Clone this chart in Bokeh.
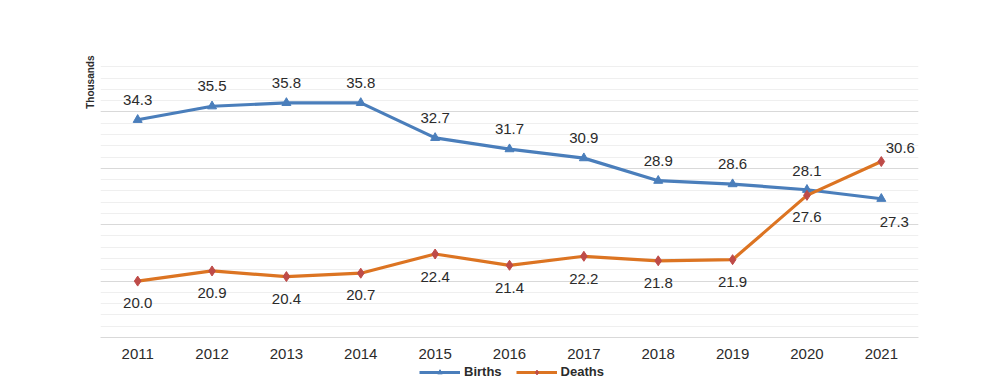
from bokeh.plotting import figure
from bokeh.models import (ColumnDataSource, LabelSet, Legend, LegendItem, Title,
                          SingleIntervalTicker, Range1d, FactorRange)
from bokeh.layouts import column
from bokeh.core.properties import value
from bokeh.embed import file_html
from bokeh.resources import INLINE

years = ["2011", "2012", "2013", "2014", "2015", "2016", "2017", "2018", "2019", "2020", "2021"]
births = [34.3, 35.5, 35.8, 35.8, 32.7, 31.7, 30.9, 28.9, 28.6, 28.1, 27.3]
deaths = [20.0, 20.9, 20.4, 20.7, 22.4, 21.4, 22.2, 21.8, 21.9, 27.6, 30.6]
series_names = ["Births", "Deaths"]

# label offsets in screen pixels (style only)
birth_dx = [0, 0, 0, 0, 0, 0, 0, 0, 0, 0, 13]
birth_dy = [20, 20, 20, 20, 20, 20, 20, 20, 20, 19, -23]
death_dx = [0, 0, 0, 0, 0, 0, 0, 0, 0, 0, 19]
death_dy = [-22, -22, -22, -22, -23, -23, -23, -22, -22, -22, 14]

FONT = "Liberation Sans"
BLUE = "#4a7ebb"
ORANGE = "#dc7422"
RED = "#be4b48"
TXT = "#2b2b2b"

src = ColumnDataSource(dict(
    year=years, births=births, deaths=deaths,
    blbl=["%.1f" % v for v in births], dlbl=["%.1f" % v for v in deaths],
    bdx=birth_dx, bdy=birth_dy, ddx=death_dx, ddy=death_dy,
))

p = figure(x_range=years, y_range=Range1d(15, 40),
           frame_width=818, frame_height=282,
           output_backend="svg", toolbar_location=None,
           min_border_left=100, min_border_right=82, min_border_top=55, min_border_bottom=28)
p.outline_line_color = None
p.background_fill_color = "white"
p.border_fill_color = "white"
p.xgrid.visible = False
p.ygrid.ticker = SingleIntervalTicker(interval=5, num_minor_ticks=5)
p.ygrid.grid_line_color = "#d9d9d9"
p.ygrid.minor_grid_line_color = "#efefef"
p.yaxis.visible = False

p.xaxis.axis_line_color = "#d9d9d9"
p.xaxis.major_tick_line_color = None
p.xaxis.minor_tick_line_color = None
p.xaxis.major_tick_out = 0
p.xaxis.major_tick_in = 0
p.xaxis.major_label_text_font = FONT
p.xaxis.major_label_text_font_size = "15px"
p.xaxis.major_label_text_color = TXT
p.xaxis.major_label_standoff = 11

p.line("year", "births", source=src, line_color=BLUE, line_width=3.2)
p.scatter("year", "births", source=src, marker="triangle", size=9,
          fill_color=BLUE, line_color=BLUE)
p.line("year", "deaths", source=src, line_color=ORANGE, line_width=3.2)
p.scatter("year", "deaths", source=src, marker="diamond", size=10,
          fill_color=RED, line_color=RED)

for col, dx, dy in (("blbl", "bdx", "bdy"), ("dlbl", "ddx", "ddy")):
    yf = "births" if col == "blbl" else "deaths"
    p.add_layout(LabelSet(x="year", y=yf, text=col, source=src, x_offset=dx, y_offset=dy,
                          text_align="center", text_baseline="middle",
                          text_font=value(FONT), text_font_size=value("15px"),
                          text_color=TXT))

p.add_layout(Title(text="Thousands", align="right", text_font=FONT, text_font_size="10px",
                   text_font_style="bold", text_color=TXT), "left")

# legend strip below the chart (its series sit outside its visible y range)
lg = figure(width=1000, height=23, x_range=FactorRange(*years), y_range=Range1d(0, 1),
            output_backend="svg", toolbar_location=None,
            x_axis_location=None, y_axis_location=None,
            min_border_left=100, min_border_right=82,
            min_border_top=0, min_border_bottom=0)
lg.outline_line_color = None
lg.grid.visible = False
lb = lg.line("year", "births", source=src, line_color=BLUE, line_width=3.2)
lbm = lg.scatter("year", "births", source=src, marker="triangle", size=8,
                 fill_color=BLUE, line_color=BLUE)
ld = lg.line("year", "deaths", source=src, line_color=ORANGE, line_width=3.2)
ldm = lg.scatter("year", "deaths", source=src, marker="diamond", size=9,
                 fill_color=RED, line_color=RED)
legend = Legend(items=[LegendItem(label=series_names[0], renderers=[lb, lbm]),
                       LegendItem(label=series_names[1], renderers=[ld, ldm])],
                orientation="horizontal", location=(319, 9),
                label_text_font=FONT, label_text_font_size="13px", label_text_font_style="bold",
                label_text_color=TXT, glyph_width=41, glyph_height=12, label_height=14,
                spacing=14, padding=0, margin=0, label_standoff=4,
                border_line_color=None, background_fill_alpha=0)
lg.add_layout(legend, "center")

open("out.html", "w").write(file_html(column(p, lg, spacing=0), INLINE))
